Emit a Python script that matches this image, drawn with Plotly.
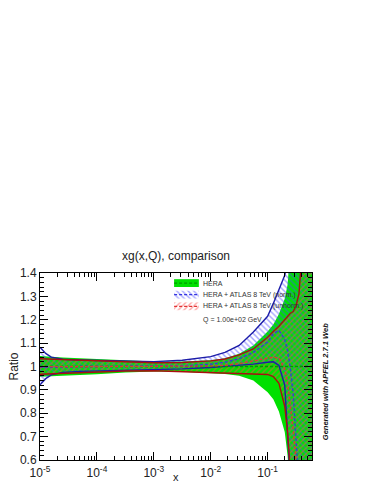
import plotly.graph_objects as go

# x grid (log-spaced points)
X = [1.0e-5, 1.26e-5, 1.58e-5, 2.51e-5, 5.01e-5, 1.0e-4, 3.16e-4, 1.0e-3, 3.16e-3,
     1.0e-2, 1.78e-2, 3.16e-2, 5.62e-2, 0.1, 0.126, 0.158, 0.2, 0.224, 0.251,
     0.282, 0.316, 0.355, 0.398, 0.501, 0.603]

# HERA (reference, ratio = 1)
HERA_UP = [1.045, 1.043, 1.041, 1.038, 1.035, 1.032, 1.026, 1.021, 1.021, 1.027, 1.035, 1.055, 1.09,
           1.15, 1.18, 1.225, 1.29, 1.35, 1.5, 1.7, 2.0, 2.2, 2.4, 2.6, 2.8]
HERA_MID = [1.0, 1.0, 1.0, 1.0, 1.0, 1.0, 1.0, 1.0, 1.0, 1.0, 1.0, 1.0, 1.0,
            1.0, 1.0, 1.0, 1.0, 1.0, 1.0, 1.0, 1.0, 1.0, 1.0, 1.0, 1.0]
HERA_LO = [0.956, 0.957, 0.958, 0.961, 0.964, 0.967, 0.974, 0.979, 0.978, 0.973, 0.968, 0.96, 0.94,
           0.89, 0.86, 0.807, 0.72, 0.62, 0.4, 0.2, 0.0, -0.2, -0.4, -0.6, -0.8]

# HERA + ATLAS 8 TeV (norm.)
NORM_UP = [1.082, 1.056, 1.04, 1.031, 1.028, 1.026, 1.022, 1.021, 1.027, 1.042, 1.06, 1.09, 1.148,
           1.215, 1.27, 1.33, 1.39, 1.45, 1.55, 1.7, 1.9, 2.1, 2.3, 2.6, 2.8]
NORM_MID = [0.996, 0.997, 0.998, 0.999, 1.0, 1.0, 1.0, 1.0, 1.003, 1.01, 1.018, 1.033, 1.06,
            1.105, 1.14, 1.155, 1.115, 1.07, 0.99, 0.88, 0.73, 0.55, 0.35, -0.1, -0.4]
NORM_LO = [0.922, 0.948, 0.964, 0.975, 0.979, 0.981, 0.984, 0.986, 0.99, 0.996, 1.0, 1.005, 1.01,
           1.018, 1.02, 1.005, 0.92, 0.71, 0.3, 0.0, -0.2, -0.4, -0.6, -0.8, -1.0]

# HERA + ATLAS 8 TeV (unnorm.)
UNNORM_UP = [1.033, 1.032, 1.031, 1.029, 1.027, 1.025, 1.02, 1.016, 1.017, 1.024, 1.032, 1.05, 1.075,
             1.125, 1.15, 1.172, 1.2, 1.215, 1.228, 1.235, 1.26, 1.31, 1.42, 1.8, 2.2]
UNNORM_MID = [0.999, 0.999, 0.999, 1.0, 1.0, 1.0, 1.0, 1.0, 1.0, 1.002, 1.005, 1.012, 1.024,
              1.037, 1.04, 1.036, 0.99, 0.93, 0.84, 0.73, 0.6, 0.45, 0.3, -0.1, -0.4]
UNNORM_LO = [0.967, 0.968, 0.969, 0.971, 0.974, 0.977, 0.981, 0.982, 0.978, 0.974, 0.973, 0.972, 0.971,
             0.966, 0.957, 0.928, 0.83, 0.72, 0.55, 0.3, 0.1, -0.1, -0.3, -0.6, -0.8]

LABELS = ["HERA", "HERA + ATLAS 8 TeV (norm.)", "HERA + ATLAS 8 TeV (unnorm.)"]
X_TICKS = [1e-5, 1e-4, 1e-3, 1e-2, 1e-1]
X_TICKTEXT = ["10<sup>-5</sup>", "10<sup>-4</sup>", "10<sup>-3</sup>", "10<sup>-2</sup>", "10<sup>-1</sup>"]
Y_TICKS = [0.6, 0.7, 0.8, 0.9, 1.0, 1.1, 1.2, 1.3, 1.4]
Y_TICKTEXT = ["0.6", "0.7", "0.8", "0.9", "1", "1.1", "1.2", "1.3", "1.4"]

FONT = "Liberation Sans, Arial, sans-serif"
GREEN = "#00e000"
GREEN_DASH = "#009a00"
BLUE_EDGE = "#1c1ca8"
BLUE_DASH = "#3535e0"
RED_EDGE = "#a81010"
RED_DASH = "#e03535"
CLEAR = "rgba(0,0,0,0)"

BLUE_HATCH = dict(shape="\\", fgcolor="#4a4aff", bgcolor=CLEAR, size=4, solidity=0.35)
RED_HATCH = dict(shape="/", fgcolor="#ff4a4a", bgcolor=CLEAR, size=4, solidity=0.35)

fig = go.Figure()


def band(lo, hi, fillcolor, pattern=None):
    fig.add_trace(go.Scatter(x=X, y=lo, mode="lines", line=dict(width=0),
                             hoverinfo="skip", showlegend=False))
    fig.add_trace(go.Scatter(x=X, y=hi, mode="lines", line=dict(width=0),
                             fill="tonexty", fillcolor=fillcolor, fillpattern=pattern,
                             hoverinfo="skip", showlegend=False))


def central(y, color):
    fig.add_trace(go.Scatter(x=X, y=y, mode="lines", line=dict(color=color, width=1.3, dash="3px,2px"),
                             hoverinfo="skip", showlegend=False))


band(HERA_LO, HERA_UP, GREEN)
band(NORM_LO, NORM_UP, CLEAR, BLUE_HATCH)
band(UNNORM_LO, UNNORM_UP, CLEAR, RED_HATCH)
# band edges drawn on top of the fills
for y, c in [(NORM_UP, BLUE_EDGE), (NORM_LO, BLUE_EDGE), (UNNORM_UP, RED_EDGE), (UNNORM_LO, RED_EDGE)]:
    fig.add_trace(go.Scatter(x=X, y=y, mode="lines", line=dict(color=c, width=1.4),
                             hoverinfo="skip", showlegend=False))
central(HERA_MID, GREEN_DASH)
central(NORM_MID, BLUE_DASH)
central(UNNORM_MID, RED_DASH)

# hand-made ROOT style legend, drawn on a hidden overlay axis
LEG_X0, LEG_X1 = 0.493, 0.584
LEG_ROWS = [0.946, 0.884, 0.822]
LEG_HALF = 0.021
swatches = [(GREEN, None, GREEN_DASH), (CLEAR, BLUE_HATCH, BLUE_DASH), (CLEAR, RED_HATCH, RED_DASH)]
for yc, (fc, pat, dc) in zip(LEG_ROWS, swatches):
    fig.add_trace(go.Scatter(x=[LEG_X0, LEG_X1, LEG_X1, LEG_X0, LEG_X0],
                             y=[yc - LEG_HALF, yc - LEG_HALF, yc + LEG_HALF, yc + LEG_HALF, yc - LEG_HALF],
                             mode="lines", line=dict(width=0, color=fc), fill="toself", fillcolor=fc,
                             fillpattern=pat, xaxis="x2", yaxis="y2", hoverinfo="skip", showlegend=False))
    fig.add_trace(go.Scatter(x=[LEG_X0, LEG_X1], y=[yc, yc], mode="lines",
                             line=dict(color=dc, width=1.3, dash="3px,2px"),
                             xaxis="x2", yaxis="y2", hoverinfo="skip", showlegend=False))

annotations = []
for yc, lab in zip(LEG_ROWS, LABELS):
    annotations.append(dict(x=0.592, y=yc, xref="paper", yref="paper", text=lab, showarrow=False,
                            xanchor="left", yanchor="middle", font=dict(size=7, color="#333")))
annotations.append(dict(x=0.592, y=0.747, xref="paper", yref="paper", text="Q = 1.00e+02 GeV",
                        showarrow=False, xanchor="left", yanchor="middle", font=dict(size=7, color="#333")))
annotations.append(dict(x=0, y=0.5, xref="paper", yref="paper", text="Ratio", showarrow=False,
                        xshift=-27, textangle=-90, xanchor="center", yanchor="middle",
                        font=dict(size=12, color="#222")))
annotations.append(dict(x=0.5, y=0, xref="paper", yref="paper", text="x", showarrow=False,
                        yshift=-17, xanchor="center", yanchor="middle", font=dict(size=11, color="#222")))
annotations.append(dict(x=1.0505, y=0.42, xref="paper", yref="paper",
                        text="<b><i>Generated with APFEL 2.7.1 Web</i></b>", showarrow=False,
                        textangle=-90, xanchor="center", yanchor="middle", font=dict(size=7.5, color="#111")))

axis_common = dict(showline=True, linecolor="black", linewidth=1, mirror="ticks", ticks="inside",
                   ticklen=8, tickcolor="black", showgrid=False, zeroline=False,
                   tickfont=dict(size=12, color="#222"))

# page has an 8px body margin, so the margins are trimmed to land the frame where the reference has it
fig.update_layout(
    width=374, height=484,
    margin=dict(l=27, r=70, t=265, b=32),
    paper_bgcolor="white", plot_bgcolor="white",
    font=dict(family=FONT),
    showlegend=False,
    title=dict(text="xg(x,Q), comparison", x=0.5, xref="paper", y=1 - 248 / 484, yanchor="middle",
               font=dict(size=12, color="#222")),
    xaxis=dict(type="log", range=[-5, -0.22], tickvals=X_TICKS, ticktext=X_TICKTEXT, ticklabelstandoff=2,
               minor=dict(ticks="inside", ticklen=4, dtick="D1", tickcolor="black", showgrid=False),
               **axis_common),
    yaxis=dict(range=[0.6, 1.4], tickvals=Y_TICKS, ticktext=Y_TICKTEXT,
               minor=dict(ticks="inside", ticklen=4, dtick=0.02, tickcolor="black", showgrid=False),
               **axis_common),
    xaxis2=dict(domain=[0, 1], range=[0, 1], overlaying="x", anchor="y2", visible=False),
    yaxis2=dict(range=[0, 1], overlaying="y", anchor="x2", visible=False),
    annotations=annotations,
)

fig.write_html("out.html")
